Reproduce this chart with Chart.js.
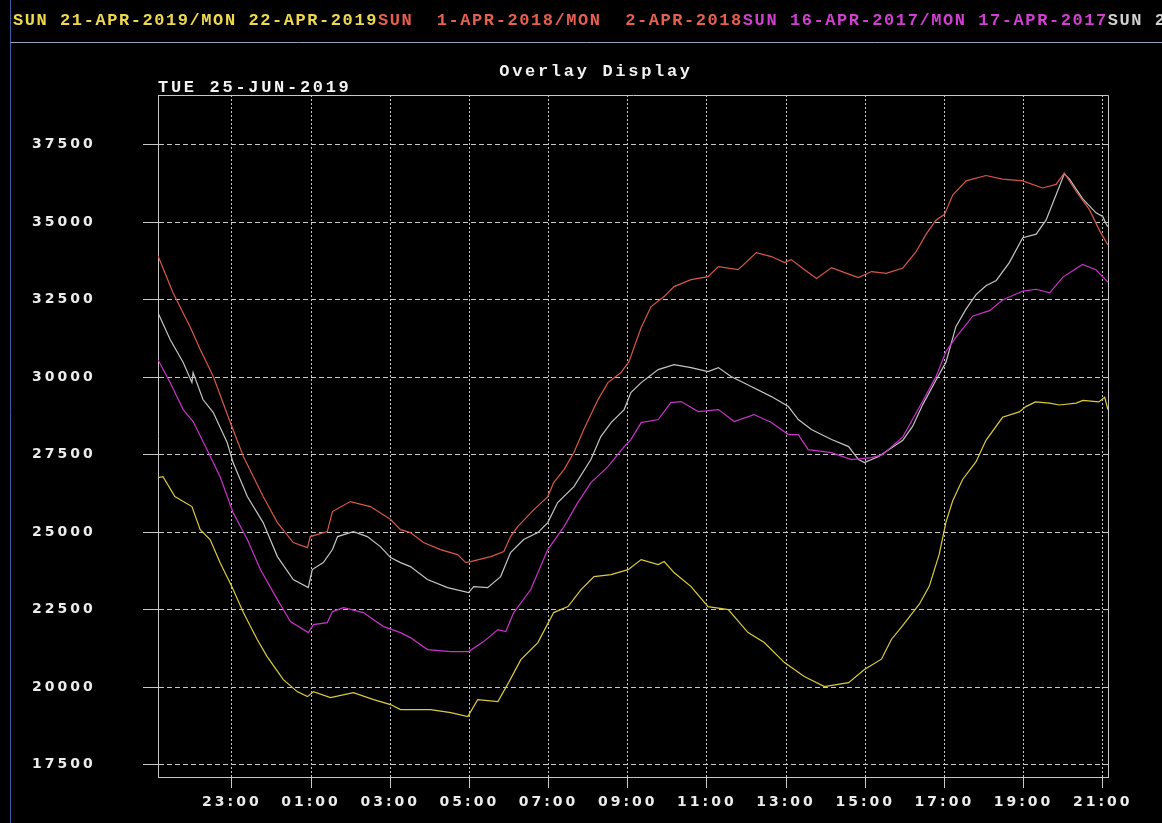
<!DOCTYPE html>
<html>
<head>
<meta charset="utf-8">
<title>Overlay Display</title>
<script src="https://cdn.jsdelivr.net/npm/chart.js@4.4.1/dist/chart.umd.min.js"></script>
<style>
  html, body { margin: 0; padding: 0; background: #000; overflow: hidden; }
  canvas { display: block; }
</style>
</head>
<body>
<canvas id="overlay" width="1162" height="823"></canvas>
<script>
// Time axis is in hours counted from midnight of the first day (25 = 01:00 next day).
const xStart = 21 + 8 / 60;
const xEnd = xStart + 24;
const xTickHours = [23, 25, 27, 29, 31, 33, 35, 37, 39, 41, 43, 45];
const yTicks = [17500, 20000, 22500, 25000, 27500, 30000, 32500, 35000, 37500];
const yMin = 17100;
const yMax = 39100;

const seriesLabels = [
  'SUN 21-APR-2019/MON 22-APR-2019',
  'SUN  1-APR-2018/MON  2-APR-2018',
  'SUN 16-APR-2017/MON 17-APR-2017',
  'SUN 27-MAR-2016/MON 28-MAR-2016'
];
const lineColors = ['#dccb3f', '#d8574a', '#c932c9', '#c4c4c4'];
const labelColors = ['#eed94e', '#e65f50', '#d13fd1', '#d0d0d0'];

const time2019 = [21.13,21.26,21.56,21.99,22.20,22.45,22.70,23.01,23.29,23.64,23.89,24.30,24.65,24.91,25.06,25.49,26.07,26.58,27.01,27.26,27.44,28.02,28.53,28.96,29.21,29.72,29.99,30.30,30.73,31.13,31.49,31.82,32.15,32.58,33.01,33.34,33.77,33.92,34.17,34.60,35.03,35.54,36.04,36.45,36.96,37.46,37.97,38.58,38.98,39.41,39.66,39.95,40.37,40.62,40.87,41.04,41.21,41.46,41.80,42.05,42.47,42.89,43.06,43.30,43.66,43.90,44.33,44.50,44.90,45.05,45.13];
const load2019 = [26759,26791,26146,25823,25081,24758,24016,23210,22404,21533,20984,20242,19855,19694,19855,19662,19823,19597,19436,19275,19275,19275,19178,19049,19597,19533,20145,20887,21436,22404,22597,23145,23565,23629,23790,24113,23952,24049,23694,23242,22597,22500,21758,21436,20790,20339,20016,20145,20565,20900,21537,21995,22683,23257,24289,25321,26009,26697,27271,27959,28704,28876,29048,29200,29163,29100,29163,29250,29200,29350,28950];

const time2018 = [21.13,21.51,21.94,22.20,22.53,22.96,23.29,23.79,24.15,24.55,24.91,24.98,25.41,25.54,25.99,26.50,27.01,27.26,27.51,27.84,28.27,28.70,28.91,29.03,29.54,29.87,30.04,30.22,30.63,30.98,31.13,31.39,31.64,31.89,32.25,32.50,32.83,33.03,33.34,33.59,33.92,34.17,34.60,35.03,35.29,35.79,36.25,36.63,36.96,37.13,37.46,37.77,38.15,38.48,38.83,39.16,39.53,39.95,40.28,40.54,40.79,41.00,41.21,41.55,42.05,42.47,42.98,43.48,43.82,44.03,44.33,44.66,44.92,45.13];
const load2018 = [33920,32727,31630,30888,30017,28534,27436,26146,25307,24662,24500,24855,25016,25662,25985,25823,25404,25080,24984,24662,24436,24275,24016,24050,24210,24371,24855,25178,25726,26146,26597,27017,27565,28307,29275,29823,30146,30500,31600,32275,32597,32920,33146,33243,33565,33468,34017,33888,33694,33791,33468,33178,33533,33372,33210,33404,33349,33521,34037,34610,35069,35241,35872,36330,36502,36388,36330,36101,36216,36583,35986,35413,34725,34266];

const time2017 = [21.13,21.44,21.77,22.02,22.37,22.70,23.03,23.39,23.72,24.15,24.48,24.93,25.06,25.41,25.54,25.82,26.32,26.83,27.26,27.51,27.94,28.53,28.98,29.36,29.72,29.92,30.12,30.55,30.98,31.39,31.74,32.07,32.50,32.91,33.08,33.34,33.77,34.09,34.35,34.78,35.29,35.69,36.19,36.63,37.06,37.31,37.56,38.15,38.65,39.16,39.44,39.95,40.20,40.45,40.79,41.04,41.29,41.72,42.14,42.47,42.98,43.32,43.66,44.00,44.49,44.83,45.13];
const load2017 = [30565,29823,28952,28565,27662,26791,25630,24759,23791,22823,22113,21758,22016,22081,22436,22565,22404,21952,21758,21597,21210,21145,21145,21468,21855,21791,22404,23146,24436,25178,25952,26597,27113,27759,27985,28533,28630,29178,29210,28888,28952,28565,28791,28533,28146,28146,27662,27565,27339,27404,27500,28073,28647,29220,30023,30826,31284,31972,32144,32488,32775,32833,32718,33234,33635,33463,33062];

const time2016 = [21.13,21.44,21.77,21.99,22.02,22.27,22.53,22.88,23.03,23.39,23.79,24.15,24.55,24.93,25.03,25.31,25.54,25.67,26.07,26.42,26.75,27.01,27.26,27.51,27.94,28.45,28.98,29.11,29.46,29.79,30.04,30.37,30.73,30.98,31.23,31.64,32.07,32.32,32.58,32.91,33.08,33.34,33.77,34.17,34.60,35.03,35.29,35.61,36.12,36.63,37.06,37.31,37.64,38.15,38.58,38.83,38.98,39.34,39.61,39.95,40.20,40.45,40.79,41.04,41.29,41.55,41.80,42.05,42.31,42.64,42.98,43.32,43.57,43.82,44.03,44.16,44.49,44.83,45.00,45.08,45.13];
const load2016 = [32081,31210,30469,29823,30146,29275,28855,27888,27242,26146,25307,24210,23468,23210,23791,24016,24436,24855,25016,24855,24533,24178,24016,23888,23468,23210,23049,23242,23210,23565,24339,24759,24984,25307,25952,26468,27339,28081,28533,28952,29500,29823,30243,30404,30307,30178,30307,30017,29694,29371,29049,28630,28307,27985,27759,27339,27242,27436,27672,27959,28418,29105,29908,30482,31628,32202,32661,32947,33119,33693,34495,34610,35069,35872,36560,36388,35757,35298,35183,34954,34850];

const titleText = 'Overlay Display';
const dateText = 'TUE 25-JUN-2019';

const gridColor = '#c8c8c8';
const axisColor = '#c8c8c8';
const monoSerif = '"Liberation Mono", "Courier New", monospace';
const tickFamily = '"DejaVu Sans", sans-serif';

const toPoints = (times, values) => times.map((t, i) => ({ x: t, y: values[i] }));
const seriesData = [
  toPoints(time2019, load2019),
  toPoints(time2018, load2018),
  toPoints(time2017, load2017),
  toPoints(time2016, load2016)
];

const hourLabel = v => String(((v % 24) + 24) % 24).padStart(2, '0') + ':00';

// Black backdrop, panel rules, header labels and plot frame.
const screenDecor = {
  id: 'screenDecor',
  beforeDraw(chart) {
    const ctx = chart.ctx;
    ctx.save();
    ctx.fillStyle = '#000';
    ctx.fillRect(0, 0, chart.width, chart.height);
    ctx.restore();
    ctx.letterSpacing = '3px';
  },
  afterDraw(chart) {
    const ctx = chart.ctx;
    const a = chart.chartArea;
    ctx.save();
    // panel rules
    ctx.lineWidth = 1;
    ctx.strokeStyle = '#3f5da8';
    ctx.beginPath();
    ctx.moveTo(10.5, 0);
    ctx.lineTo(10.5, chart.height);
    ctx.stroke();
    ctx.strokeStyle = '#9aa3bd';
    ctx.beginPath();
    ctx.moveTo(10.5, 42.5);
    ctx.lineTo(chart.width, 42.5);
    ctx.stroke();

    // plot frame (top and right sides)
    ctx.strokeStyle = axisColor;
    ctx.beginPath();
    ctx.moveTo(Math.round(a.left) + 0.5, Math.round(a.top) + 0.5);
    ctx.lineTo(Math.round(a.right) + 0.5, Math.round(a.top) + 0.5);
    ctx.lineTo(Math.round(a.right) + 0.5, Math.round(a.bottom) + 0.5);
    ctx.stroke();

    // series header line
    ctx.font = 'bold 17px ' + monoSerif;
    ctx.letterSpacing = '1.57px';
    ctx.textBaseline = 'alphabetic';
    ctx.textAlign = 'left';
    let x = 13;
    chart.data.datasets.forEach((ds, i) => {
      ctx.fillStyle = labelColors[i];
      ctx.fillText(ds.label, x, 25);
      x += ctx.measureText(ds.label).width;
    });

    // title and date
    ctx.fillStyle = '#f2f2f2';
    ctx.letterSpacing = '2.7px';
    ctx.textAlign = 'center';
    ctx.fillText(titleText, 596, 76);
    ctx.textAlign = 'left';
    ctx.fillText(dateText, a.left, 92);
    ctx.restore();
  }
};

new Chart(document.getElementById('overlay'), {
  type: 'line',
  data: {
    datasets: seriesLabels.map((label, i) => ({
      label,
      data: seriesData[i],
      borderColor: lineColors[i],
      backgroundColor: lineColors[i],
      borderWidth: 1.2,
      pointRadius: 0,
      tension: 0,
      fill: false
    }))
  },
  options: {
    responsive: false,
    devicePixelRatio: 1,
    animation: false,
    events: [],
    layout: { padding: { left: 32, top: 95, right: 54, bottom: 0 } },
    plugins: {
      legend: { display: false },
      title: { display: false },
      tooltip: { enabled: false }
    },
    scales: {
      x: {
        type: 'linear',
        min: xStart,
        max: xEnd,
        afterBuildTicks: s => { s.ticks = xTickHours.map(v => ({ value: v })); },
        afterFit: s => { s.height = 46; },
        ticks: {
          autoSkip: false,
          maxRotation: 0,
          color: '#ececec',
          padding: 6,
          font: { family: tickFamily, weight: 'bold', size: 14 },
          callback: v => hourLabel(v)
        },
        grid: {
          color: gridColor,
          lineWidth: 1,
          tickLength: 11,
          tickColor: axisColor,
          tickBorderDash: []
        },
        border: { display: true, color: axisColor, width: 1, dash: [2, 2] }
      },
      y: {
        min: yMin,
        max: yMax,
        afterBuildTicks: s => { s.ticks = yTicks.map(v => ({ value: v })); },
        afterFit: s => { s.width = 126; },
        ticks: {
          color: '#ececec',
          padding: 4,
          crossAlign: 'far',
          font: { family: tickFamily, weight: 'bold', size: 14 },
          callback: v => String(v)
        },
        grid: {
          color: gridColor,
          lineWidth: 1,
          tickLength: 15,
          tickColor: axisColor,
          tickBorderDash: []
        },
        border: { display: true, color: axisColor, width: 1, dash: [5, 3] }
      }
    }
  },
  plugins: [screenDecor]
});
</script>
</body>
</html>
